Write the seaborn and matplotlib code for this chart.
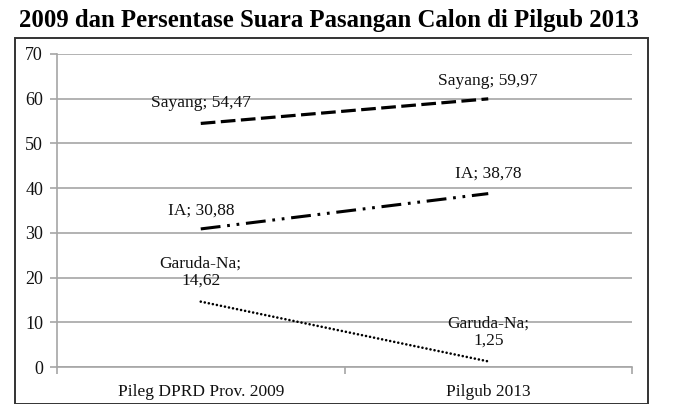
import matplotlib
matplotlib.use('Agg')
import matplotlib.pyplot as plt
from matplotlib.patches import Rectangle
import seaborn as sns
import pandas as pd

categories = ['Pileg DPRD Prov. 2009', 'Pilgub 2013']
series = ['Sayang', 'IA', 'Garuda-Na']
values = {
    'Sayang': [54.47, 59.97],
    'IA': [30.88, 38.78],
    'Garuda-Na': [14.62, 1.25],
}
point_labels = {
    'Sayang': ['Sayang; 54,47', 'Sayang; 59,97'],
    'IA': ['IA; 30,88', 'IA; 38,78'],
    'Garuda-Na': ['Garuda-Na;\n14,62', 'Garuda-Na;\n1,25'],
}
title = '2009 dan Persentase Suara Pasangan Calon di Pilgub 2013'

rows = []
for s in series:
    for i, v in enumerate(values[s]):
        rows.append({'x': i, 'value': v, 'series': s})
df = pd.DataFrame(rows)

sns.set_theme(style='white')
plt.rcParams['font.family'] = ['Liberation Serif', 'DejaVu Serif']

fig = plt.figure(figsize=(6.85, 4.04), dpi=100)
ax = fig.add_axes([57 / 685, 1 - 367 / 404, 575 / 685, 313 / 404])

# dash patterns in linewidth units (matplotlib scales them by the width)
dashes = {'Sayang': (4.6, 1.7), 'IA': (6.5, 2.2, 0.9, 2.2, 0.9, 2.2), 'Garuda-Na': (0.01, 1.55)}
widths = {'Sayang': 2.3, 'IA': 2.2, 'Garuda-Na': 1.9}
for s in series:
    sub = df[df['series'] == s]
    sns.lineplot(data=sub, x='x', y='value', ax=ax, color='black',
                 linewidth=widths[s], legend=False)
    line = ax.lines[-1]
    line.set_dashes(dashes[s])
    if s == 'Garuda-Na':
        line.set_dash_capstyle('round')

ax.set_xlim(-0.5, 1.5)
ax.set_ylim(0, 70)
ax.set_yticks(range(0, 71, 10))
ax.set_xticks([0, 1])
ax.set_xticklabels(categories)
ax.set_xticks([-0.5, 0.5, 1.5], minor=True)
ax.set_xlabel('')
ax.set_ylabel('')
ax.yaxis.grid(True, color='#a6a6a6', linewidth=1.2)
ax.set_axisbelow(True)
for side in ['top', 'right']:
    ax.spines[side].set_visible(False)
for side in ['left', 'bottom']:
    ax.spines[side].set_color('#a6a6a6')
    ax.spines[side].set_linewidth(1.2)
ax.tick_params(axis='y', left=True, length=5, width=1.2, color='#a6a6a6',
               labelsize=13, pad=5, labelcolor='#111111')
ax.tick_params(axis='x', which='major', bottom=False, labelsize=12.5,
               pad=6, labelcolor='#111111')
ax.tick_params(axis='x', which='minor', bottom=True, length=5, width=1.2,
               color='#a6a6a6')

# data labels, offset above each point (in data units)
offsets = {
    'Sayang': [4.5, 4.0],
    'IA': [4.2, 4.4],
    'Garuda-Na': [6.6, 6.5],
}
for s in series:
    for i, v in enumerate(values[s]):
        ax.text(i, v + offsets[s][i], point_labels[s][i], ha='center', va='center',
                fontsize=12.5, color='#111111', linespacing=1.1)

fig.text(329 / 685, 1 - 20 / 404, title, ha='center', va='center',
         fontsize=17.8, fontweight='bold', color='black')
fig.patches.append(Rectangle((15 / 685, 0), (648 - 15) / 685, 1 - 38 / 404,
                             transform=fig.transFigure, fill=False,
                             edgecolor='#333333', linewidth=1.4, clip_on=False))

fig.savefig('out.png', dpi=100)
